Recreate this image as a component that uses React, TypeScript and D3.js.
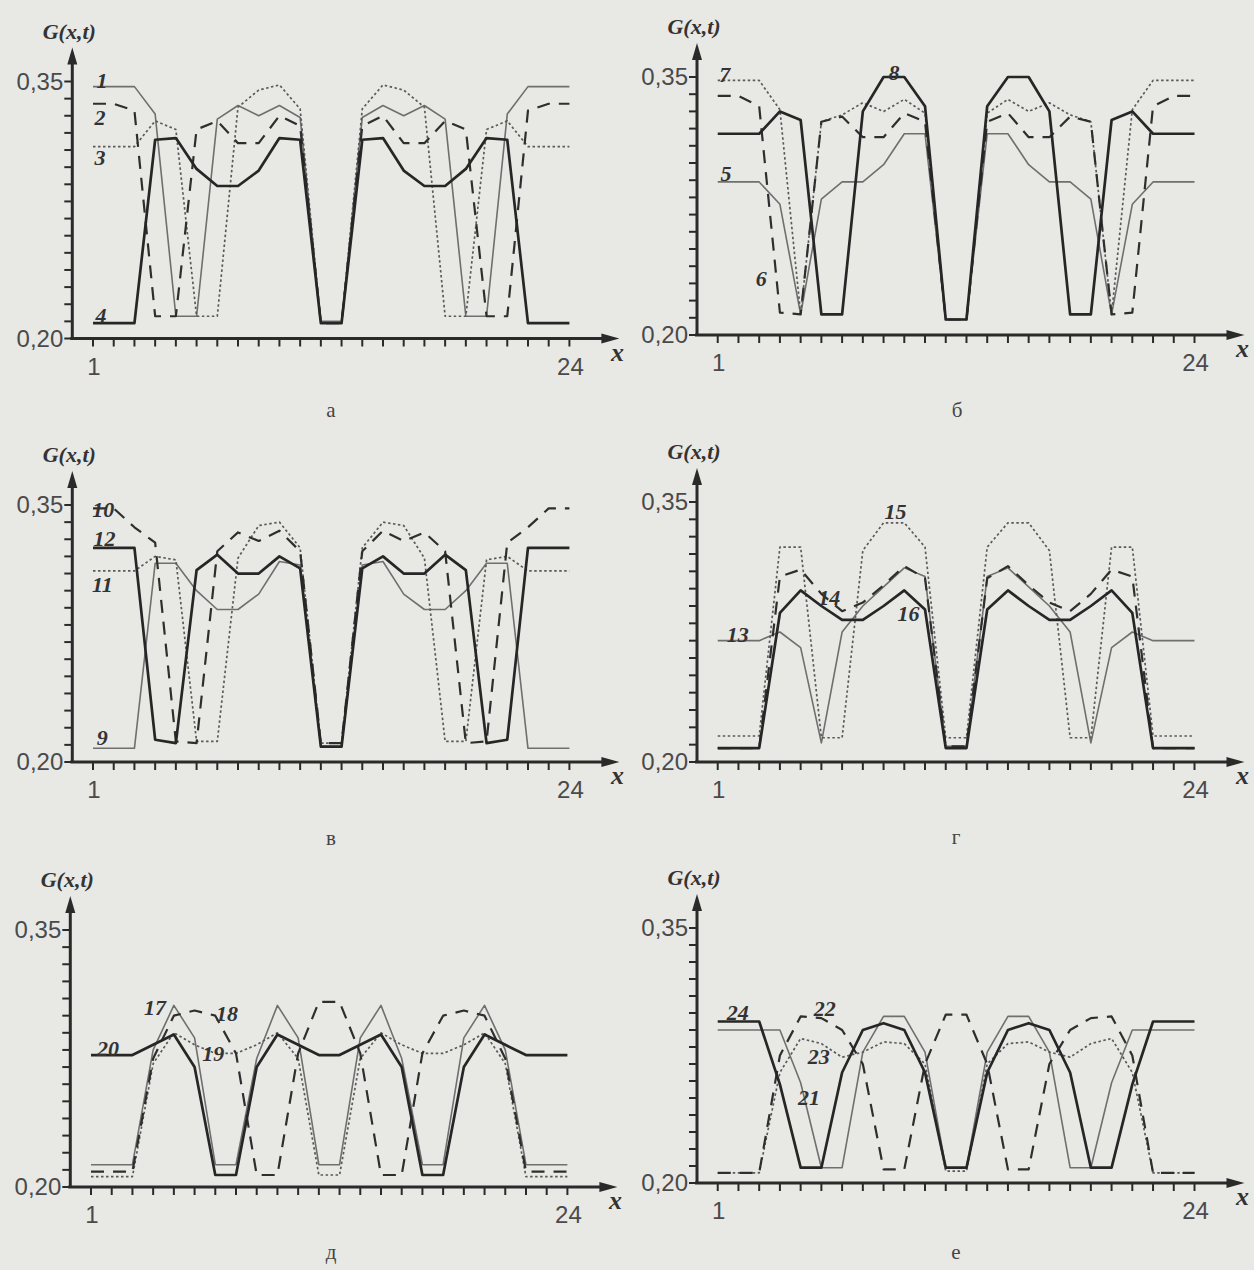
import React, { useEffect, useRef } from "react"
import * as d3 from "d3"

const W = 1254
const H = 1270

// x positions (cells 1..24)
const xValues = [1, 2, 3, 4, 5, 6, 7, 8, 9, 10, 11, 12, 13, 14, 15, 16, 17, 18, 19, 20, 21, 22, 23, 24]
const yTickValues = [0.2, 0.35]
const yTickLabels = ["0,20", "0,35"]
const xTickValues = [1, 24]
const xTickLabels = ["1", "24"]
const panelLetters = ["а", "б", "в", "г", "д", "е"]

// panel а
const curve1 = [0.347, 0.347, 0.347, 0.331, 0.213, 0.213, 0.328, 0.336, 0.33, 0.336, 0.329, 0.21, 0.21, 0.329, 0.336, 0.33, 0.336, 0.328, 0.213, 0.213, 0.331, 0.347, 0.347, 0.347]
const curve2 = [0.337, 0.337, 0.333, 0.213, 0.213, 0.322, 0.327, 0.314, 0.314, 0.33, 0.324, 0.209, 0.209, 0.324, 0.33, 0.314, 0.314, 0.327, 0.322, 0.213, 0.213, 0.333, 0.337, 0.337]
const curve3 = [0.312, 0.312, 0.312, 0.327, 0.322, 0.213, 0.213, 0.335, 0.345, 0.348, 0.334, 0.209, 0.209, 0.334, 0.348, 0.345, 0.335, 0.213, 0.213, 0.322, 0.327, 0.312, 0.312, 0.312]
const curve4 = [0.209, 0.209, 0.209, 0.316, 0.317, 0.299, 0.289, 0.289, 0.298, 0.317, 0.316, 0.209, 0.209, 0.316, 0.317, 0.298, 0.289, 0.289, 0.299, 0.317, 0.316, 0.209, 0.209, 0.209]

// panel б
const curve5 = [0.289, 0.289, 0.289, 0.276, 0.212, 0.279, 0.289, 0.289, 0.299, 0.317, 0.317, 0.209, 0.209, 0.317, 0.317, 0.299, 0.289, 0.289, 0.279, 0.212, 0.276, 0.289, 0.289, 0.289]
const curve6 = [0.339, 0.339, 0.333, 0.213, 0.212, 0.324, 0.327, 0.315, 0.315, 0.329, 0.324, 0.209, 0.209, 0.324, 0.329, 0.315, 0.315, 0.327, 0.324, 0.212, 0.213, 0.333, 0.339, 0.339]
const curve7 = [0.348, 0.348, 0.348, 0.331, 0.212, 0.324, 0.328, 0.335, 0.33, 0.337, 0.329, 0.209, 0.209, 0.329, 0.337, 0.33, 0.335, 0.328, 0.324, 0.212, 0.331, 0.348, 0.348, 0.348]
const curve8 = [0.317, 0.317, 0.317, 0.33, 0.325, 0.212, 0.212, 0.33, 0.35, 0.35, 0.333, 0.209, 0.209, 0.333, 0.35, 0.35, 0.33, 0.212, 0.212, 0.325, 0.33, 0.317, 0.317, 0.317]

// panel в
const curve9 = [0.208, 0.208, 0.208, 0.316, 0.316, 0.3, 0.289, 0.289, 0.298, 0.317, 0.315, 0.209, 0.209, 0.315, 0.317, 0.298, 0.289, 0.289, 0.3, 0.316, 0.316, 0.208, 0.208, 0.208]
const curve10 = [0.348, 0.348, 0.337, 0.328, 0.212, 0.211, 0.323, 0.334, 0.329, 0.335, 0.323, 0.211, 0.211, 0.323, 0.335, 0.329, 0.334, 0.323, 0.211, 0.212, 0.328, 0.337, 0.348, 0.348]
const curve11 = [0.3115, 0.3115, 0.3115, 0.32, 0.318, 0.212, 0.212, 0.319, 0.338, 0.34, 0.325, 0.211, 0.211, 0.325, 0.34, 0.338, 0.319, 0.212, 0.212, 0.318, 0.32, 0.3115, 0.3115, 0.3115]
const curve12 = [0.325, 0.325, 0.325, 0.213, 0.211, 0.312, 0.321, 0.31, 0.31, 0.32, 0.313, 0.209, 0.209, 0.313, 0.32, 0.31, 0.31, 0.321, 0.312, 0.211, 0.213, 0.325, 0.325, 0.325]

// panel г
const curve13 = [0.27, 0.27, 0.27, 0.275, 0.266, 0.211, 0.275, 0.29, 0.301, 0.312, 0.307, 0.209, 0.209, 0.307, 0.312, 0.301, 0.29, 0.275, 0.211, 0.266, 0.275, 0.27, 0.27, 0.27]
const curve14 = [0.208, 0.208, 0.208, 0.307, 0.311, 0.297, 0.287, 0.292, 0.302, 0.313, 0.306, 0.209, 0.209, 0.306, 0.313, 0.302, 0.292, 0.287, 0.297, 0.311, 0.307, 0.208, 0.208, 0.208]
const curve15 = [0.215, 0.215, 0.215, 0.324, 0.324, 0.214, 0.214, 0.322, 0.338, 0.338, 0.324, 0.214, 0.214, 0.324, 0.338, 0.338, 0.322, 0.214, 0.214, 0.324, 0.324, 0.215, 0.215, 0.215]
const curve16 = [0.208, 0.208, 0.208, 0.286, 0.299, 0.29, 0.282, 0.282, 0.29, 0.299, 0.288, 0.208, 0.208, 0.288, 0.299, 0.29, 0.282, 0.282, 0.29, 0.299, 0.286, 0.208, 0.208, 0.208]

// panel д
const curve17 = [0.213, 0.213, 0.213, 0.28, 0.306, 0.287, 0.213, 0.213, 0.275, 0.306, 0.287, 0.213, 0.213, 0.287, 0.306, 0.275, 0.213, 0.213, 0.287, 0.306, 0.28, 0.213, 0.213, 0.213]
const curve18 = [0.209, 0.209, 0.209, 0.275, 0.3, 0.303, 0.3, 0.278, 0.207, 0.207, 0.278, 0.308, 0.308, 0.278, 0.207, 0.207, 0.278, 0.3, 0.303, 0.3, 0.275, 0.209, 0.209, 0.209]
const curve19 = [0.206, 0.206, 0.206, 0.272, 0.29, 0.283, 0.278, 0.278, 0.283, 0.29, 0.275, 0.207, 0.207, 0.275, 0.29, 0.283, 0.278, 0.278, 0.283, 0.29, 0.272, 0.206, 0.206, 0.206]
const curve20 = [0.277, 0.277, 0.277, 0.283, 0.289, 0.27, 0.207, 0.207, 0.27, 0.289, 0.283, 0.277, 0.277, 0.283, 0.289, 0.27, 0.207, 0.207, 0.27, 0.289, 0.283, 0.277, 0.277, 0.277]

// panel е
const curve21 = [0.29, 0.29, 0.29, 0.29, 0.259, 0.209, 0.209, 0.277, 0.298, 0.298, 0.277, 0.209, 0.209, 0.277, 0.298, 0.298, 0.277, 0.209, 0.209, 0.259, 0.29, 0.29, 0.29, 0.29]
const curve22 = [0.206, 0.206, 0.206, 0.275, 0.298, 0.297, 0.29, 0.27, 0.208, 0.208, 0.27, 0.299, 0.299, 0.27, 0.208, 0.208, 0.27, 0.29, 0.297, 0.298, 0.275, 0.206, 0.206, 0.206]
const curve23 = [0.206, 0.206, 0.206, 0.265, 0.285, 0.282, 0.274, 0.277, 0.283, 0.282, 0.27, 0.207, 0.207, 0.27, 0.282, 0.283, 0.277, 0.274, 0.282, 0.285, 0.265, 0.206, 0.206, 0.206]
const curve24 = [0.295, 0.295, 0.295, 0.258, 0.209, 0.209, 0.265, 0.29, 0.294, 0.29, 0.265, 0.209, 0.209, 0.265, 0.29, 0.294, 0.29, 0.265, 0.209, 0.209, 0.258, 0.295, 0.295, 0.295]

// each panel: thin, dashed, dotted, thick
const panelCurves = [
  [["1", curve1], ["2", curve2], ["3", curve3], ["4", curve4]],
  [["5", curve5], ["6", curve6], ["7", curve7], ["8", curve8]],
  [["9", curve9], ["10", curve10], ["11", curve11], ["12", curve12]],
  [["13", curve13], ["14", curve14], ["15", curve15], ["16", curve16]],
  [["17", curve17], ["18", curve18], ["19", curve19], ["20", curve20]],
  [["21", curve21], ["22", curve22], ["23", curve23], ["24", curve24]],
] as [string, number[]][][]

const lineStyles = [
  { stroke: "#6f6f6f", width: 1.6, dash: null },
  { stroke: "#2e2e2e", width: 2.2, dash: "13 9" },
  { stroke: "#5a5a5a", width: 1.7, dash: "2.5 2.5" },
  { stroke: "#262626", width: 2.7, dash: null },
]

// pixel frame of each panel and label anchors (in data units)
const layout = [
  { left: 72.3, right: 569.4, top: 81.5, bottom: 338.5, cap: [331, 410], labels: [[1.43, 0.351], [1.34, 0.329], [1.34, 0.306], [1.39, 0.2135]] },
  { left: 697, right: 1194.5, top: 77, bottom: 335, cap: [957, 410], labels: [[1.4, 0.294], [3.1, 0.233], [1.34, 0.352], [9.5, 0.353]] },
  { left: 72.3, right: 569.4, top: 505, bottom: 762, cap: [331, 838], labels: [[1.45, 0.2146], [1.5, 0.3476], [1.45, 0.3037], [1.55, 0.331]] },
  { left: 697, right: 1194.5, top: 502, bottom: 762, cap: [956, 837], labels: [[1.97, 0.274], [6.38, 0.295], [9.58, 0.345], [10.2, 0.286]] },
  { left: 70.3, right: 567.4, top: 930, bottom: 1187, cap: [331, 1252], labels: [[4.09, 0.305], [7.57, 0.3016], [6.9, 0.278], [1.82, 0.281]] },
  { left: 697, right: 1194.5, top: 928, bottom: 1183, cap: [956, 1252], labels: [[5.4, 0.2506], [6.16, 0.303], [5.87, 0.275], [1.96, 0.3006]] },
]

const serif = "'Liberation Serif', 'DejaVu Serif', serif"
const sans = "'Liberation Sans', Arial, sans-serif"

const App = () => {
  const ref = useRef<SVGSVGElement>(null)

  useEffect(() => {
    const svg = d3.select(ref.current)
    svg.selectAll("*").remove()

    svg.append("rect").attr("width", W).attr("height", H).attr("fill", "#e8e8e5")

    panelCurves.forEach((curves, i) => {
      const L = layout[i]
      const x = d3.scaleLinear().domain([0, 24]).range([L.left, L.right])
      const y = d3.scaleLinear().domain([0.2, 0.35]).range([L.bottom, L.top])
      const g = svg.append("g")
      const ax = x(0)
      const ay = y(0.2)
      const ink = "#2a2a2a"

      // y minor ticks
      g.selectAll(".yt")
        .data(d3.range(16).map((k) => 0.2 + k * 0.01))
        .join("line")
        .attr("x1", ax - 8)
        .attr("x2", ax)
        .attr("y1", (d) => y(d))
        .attr("y2", (d) => y(d))
        .attr("stroke", ink)
        .attr("stroke-width", 2)

      // x ticks
      g.selectAll(".xt")
        .data(xValues)
        .join("line")
        .attr("x1", (d) => x(d))
        .attr("x2", (d) => x(d))
        .attr("y1", ay)
        .attr("y2", ay + 8)
        .attr("stroke", ink)
        .attr("stroke-width", 2)

      // axes
      g.append("line")
        .attr("x1", ax).attr("x2", ax)
        .attr("y1", ay + 1).attr("y2", y(0.35) - 22)
        .attr("stroke", ink).attr("stroke-width", 3)
      g.append("line")
        .attr("x1", ax - 2).attr("x2", x(24) + 36)
        .attr("y1", ay).attr("y2", ay)
        .attr("stroke", ink).attr("stroke-width", 3)
      const tipY = y(0.35) - 34
      g.append("path")
        .attr("d", `M${ax},${tipY} L${ax - 5},${tipY + 17} L${ax + 5},${tipY + 17} Z`)
        .attr("fill", ink)
      const tipX = x(24) + 50
      g.append("path")
        .attr("d", `M${tipX},${ay} L${tipX - 18},${ay - 5} L${tipX - 18},${ay + 5} Z`)
        .attr("fill", ink)

      // tick labels
      g.selectAll(".yl")
        .data(yTickValues)
        .join("text")
        .attr("x", ax - 9)
        .attr("y", (d) => y(d) + 8)
        .attr("text-anchor", "end")
        .attr("font-family", sans)
        .attr("font-size", 24)
        .attr("fill", "#4a4a4a")
        .text((_, k) => yTickLabels[k])
      g.selectAll(".xl")
        .data(xTickValues)
        .join("text")
        .attr("x", (d) => x(d) + 1)
        .attr("y", ay + 36)
        .attr("text-anchor", "middle")
        .attr("font-family", sans)
        .attr("font-size", 24)
        .attr("fill", "#4a4a4a")
        .text((_, k) => xTickLabels[k])

      // axis titles
      g.append("text")
        .attr("x", ax - 3)
        .attr("y", y(0.35) - 43)
        .attr("text-anchor", "middle")
        .attr("font-family", serif)
        .attr("font-style", "italic")
        .attr("font-weight", "bold")
        .attr("font-size", 22)
        .attr("fill", "#333")
        .text("G(x,t)")
      g.append("text")
        .attr("x", tipX - 2)
        .attr("y", ay + 22)
        .attr("text-anchor", "middle")
        .attr("font-family", serif)
        .attr("font-style", "italic")
        .attr("font-weight", "bold")
        .attr("font-size", 26)
        .attr("fill", "#333")
        .text("x")

      // curves
      const line = d3
        .line<number>()
        .x((_, k) => x(xValues[k]))
        .y((d) => y(d))
      const order = [0, 2, 1, 3]
      order.forEach((k) => {
        const st = lineStyles[k]
        g.append("path")
          .attr("d", line(curves[k][1]))
          .attr("fill", "none")
          .attr("stroke", st.stroke)
          .attr("stroke-width", st.width)
          .attr("stroke-dasharray", st.dash)
          .attr("stroke-linejoin", "round")
      })

      // curve labels
      curves.forEach(([name], k) => {
        const [lx, lv] = L.labels[k]
        g.append("text")
          .attr("x", x(lx))
          .attr("y", y(lv) + 8)
          .attr("text-anchor", "middle")
          .attr("font-family", serif)
          .attr("font-style", "italic")
          .attr("font-weight", "bold")
          .attr("font-size", 22)
          .attr("fill", "#333")
          .text(name)
      })

      // panel letter
      g.append("text")
        .attr("x", L.cap[0])
        .attr("y", L.cap[1] + 7)
        .attr("text-anchor", "middle")
        .attr("font-family", serif)
        .attr("font-size", 21)
        .attr("fill", "#444")
        .text(panelLetters[i])
    })
  }, [])

  return (
    <svg
      ref={ref}
      width={W}
      height={H}
      style={{ position: "absolute", left: 0, top: 0, display: "block" }}
    />
  )
}

export default App
